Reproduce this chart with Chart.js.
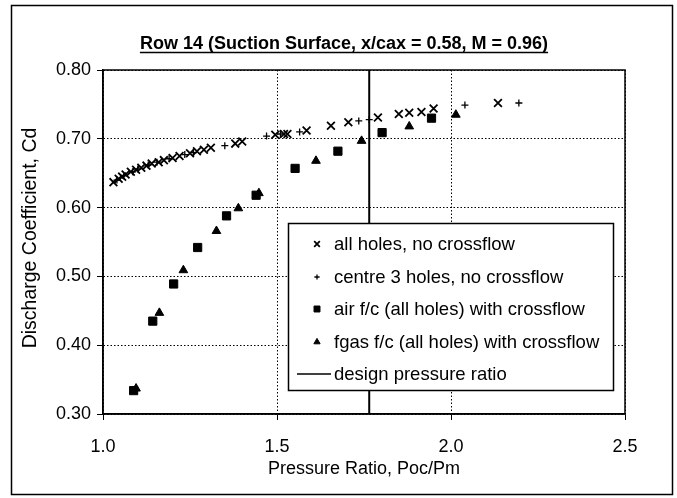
<!DOCTYPE html>
<html>
<head>
<meta charset="utf-8">
<script src="https://cdn.jsdelivr.net/npm/chart.js@4/dist/chart.umd.min.js"></script>
<style>
html,body{margin:0;padding:0;background:#fff;}
#wrap{width:677px;height:498px;position:relative;}
</style>
</head>
<body>
<div id="wrap"><canvas id="c" width="677" height="498"></canvas></div>
<script>
const chartTitle = "Row 14 (Suction Surface, x/cax = 0.58, M = 0.96)";
const xTitle = "Pressure Ratio, Poc/Pm";
const yTitle = "Discharge Coefficient, Cd";
const seriesNames = ["all holes, no crossflow", "centre 3 holes, no crossflow", "air f/c (all holes) with crossflow", "fgas f/c (all holes) with crossflow", "design pressure ratio"];

const allHolesX = [1.03,1.045,1.055,1.065,1.08,1.095,1.11,1.125,1.14,1.16,1.175,1.20,1.22,1.25,1.27,1.29,1.31,1.38,1.40,1.495,1.52,1.53,1.585,1.655,1.705,1.79,1.85,1.88,1.915,1.95,2.135];
const allHolesY = [0.637,0.642,0.645,0.648,0.652,0.655,0.658,0.661,0.664,0.666,0.669,0.672,0.675,0.679,0.682,0.684,0.687,0.693,0.696,0.706,0.707,0.707,0.712,0.719,0.724,0.731,0.736,0.738,0.739,0.744,0.752];

const centreX = [1.04,1.06,1.085,1.10,1.13,1.155,1.19,1.235,1.26,1.35,1.47,1.51,1.565,1.735,1.765,2.04,2.195];
const centreY = [0.640,0.646,0.652,0.656,0.662,0.666,0.671,0.677,0.680,0.690,0.704,0.707,0.710,0.726,0.728,0.749,0.752];

const airX = [1.088,1.143,1.203,1.272,1.355,1.440,1.552,1.675,1.802,1.944];
const airY = [0.334,0.435,0.489,0.542,0.588,0.618,0.657,0.682,0.709,0.730];

const fgasX = [1.095,1.162,1.231,1.326,1.389,1.448,1.612,1.743,1.880,2.014];
const fgasY = [0.337,0.447,0.509,0.566,0.599,0.621,0.668,0.697,0.718,0.735];

const designX = [1.765,1.765];
const designY = [0.30,0.80];

const xTicks = [1.0,1.5,2.0,2.5];
const yTicks = [0.30,0.40,0.50,0.60,0.70,0.80];

const FONT = "'Liberation Sans', Arial, sans-serif";
const pts = (xs, ys) => xs.map((x, i) => ({x: x, y: ys[i]}));

const styles = [
  {pointStyle:'crossRot', radius:5.5, borderWidth:1.8, legendRadius:4},
  {pointStyle:'cross', radius:3.5, borderWidth:1.3, legendRadius:2.6},
  {pointStyle:'rect', radius:5.8, borderWidth:1, legendRadius:4.2},
  {pointStyle:'triangle', radius:5, borderWidth:1, legendRadius:3.6}
];

const decor = {
  id: 'decor',
  afterDraw(chart) {
    const ctx = chart.ctx;
    const a = chart.chartArea;
    ctx.save();
    // plot frame
    ctx.strokeStyle = '#000';
    ctx.lineWidth = 1.5;
    ctx.strokeRect(a.left, a.top, a.right - a.left, a.bottom - a.top);
    // outer frame
    ctx.strokeRect(11.5, 5.5, 661, 489);
    // title
    ctx.fillStyle = '#000';
    ctx.font = "bold 18px " + FONT;
    ctx.textAlign = 'center';
    ctx.textBaseline = 'middle';
    const tx = 344, ty = 44;
    ctx.fillText(chartTitle, tx, ty);
    const tw = ctx.measureText(chartTitle).width;
    ctx.lineWidth = 1.5;
    ctx.beginPath();
    ctx.moveTo(tx - tw/2, ty + 8.5);
    ctx.lineTo(tx + tw/2, ty + 8.5);
    ctx.stroke();
    // axis titles
    ctx.font = "18px " + FONT;
    ctx.fillText(xTitle, 364, 469);
    ctx.save();
    ctx.translate(31, 238);
    ctx.rotate(-Math.PI/2);
    ctx.font = "19.5px " + FONT;
    ctx.fillText(yTitle, 0, 0);
    ctx.restore();
    // legend
    const L = 288, T = 223, R = 613, B = 390;
    ctx.fillStyle = '#fff';
    ctx.fillRect(L, T, R - L, B - T);
    ctx.strokeStyle = '#000';
    ctx.lineWidth = 1.5;
    ctx.strokeRect(L + 0.5, T + 0.5, R - L, B - T);
    ctx.font = "18.5px " + FONT;
    ctx.textAlign = 'left';
    const rowY = [244, 277, 309, 342, 374];
    chart.data.datasets.forEach((ds, i) => {
      const y = rowY[i];
      ctx.fillStyle = '#000';
      ctx.strokeStyle = '#000';
      if (i < 4) {
        const s = styles[i];
        ctx.lineWidth = s.borderWidth;
        Chart.helpers.drawPoint(ctx, {pointStyle: s.pointStyle, radius: s.legendRadius, borderWidth: s.borderWidth, rotation: 0}, 317, y);
      } else {
        ctx.lineWidth = 1.5;
        ctx.beginPath();
        ctx.moveTo(297, y);
        ctx.lineTo(331, y);
        ctx.stroke();
      }
      ctx.fillText(ds.label, 334, y + 1);
    });
    ctx.restore();
  }
};

new Chart(document.getElementById('c'), {
  type: 'scatter',
  data: {
    datasets: [
      {label: seriesNames[0], data: pts(allHolesX, allHolesY), backgroundColor:'#000', borderColor:'#000', pointStyle: styles[0].pointStyle, pointRadius: styles[0].radius, pointBorderWidth: styles[0].borderWidth},
      {label: seriesNames[1], data: pts(centreX, centreY), backgroundColor:'#000', borderColor:'#000', pointStyle: styles[1].pointStyle, pointRadius: styles[1].radius, pointBorderWidth: styles[1].borderWidth},
      {label: seriesNames[2], data: pts(airX, airY), backgroundColor:'#000', borderColor:'#000', pointStyle: styles[2].pointStyle, pointRadius: styles[2].radius, pointBorderWidth: styles[2].borderWidth},
      {label: seriesNames[3], data: pts(fgasX, fgasY), backgroundColor:'#000', borderColor:'#000', pointStyle: styles[3].pointStyle, pointRadius: styles[3].radius, pointBorderWidth: styles[3].borderWidth},
      {label: seriesNames[4], type:'line', data: pts(designX, designY), showLine:true, borderColor:'#000', borderWidth:2, pointRadius:0, fill:false}
    ]
  },
  options: {
    responsive: false,
    animation: false,
    events: [],
    layout: {padding: {left: 0, right: 52, top: 70, bottom: 0}},
    plugins: {legend: {display: false}, title: {display: false}, tooltip: {enabled: false}},
    scales: {
      x: {
        type: 'linear', min: 1.0, max: 2.5,
        afterBuildTicks: (s) => { s.ticks = xTicks.map(v => ({value: v})); },
        afterFit: (s) => { s.height = 84; },
        grid: {color: '#000', lineWidth: 1, tickLength: 6, drawTicks: true},
        border: {display: true, color: '#000', width: 1.5, dash: [1.5, 2]},
        ticks: {color: '#000', font: {family: FONT, size: 18}, padding: 16, maxRotation: 0, callback: (v) => Number(v).toFixed(1)}
      },
      y: {
        type: 'linear', min: 0.30, max: 0.80,
        afterBuildTicks: (s) => { s.ticks = yTicks.map(v => ({value: v})); },
        afterFit: (s) => { s.width = 103; },
        grid: {color: '#000', lineWidth: 1, tickLength: 6, drawTicks: true},
        border: {display: true, color: '#000', width: 1.5, dash: [1.5, 2]},
        ticks: {color: '#000', font: {family: FONT, size: 18}, padding: 6, callback: (v) => Number(v).toFixed(2)}
      }
    }
  },
  plugins: [decor]
});
</script>
</body>
</html>
